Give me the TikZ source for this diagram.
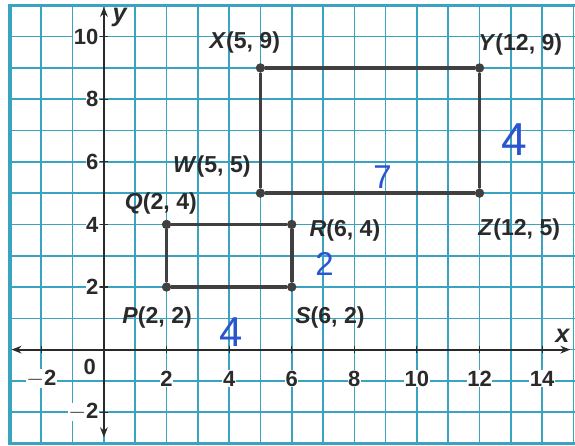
\documentclass[tikz,border=0pt]{standalone}
\usepackage{fontspec}
\setmainfont{Liberation Sans}
\usetikzlibrary{arrows.meta}
\definecolor{gridteal}{HTML}{3AA3C0}
\definecolor{axisgray}{HTML}{2A2A2A}
\definecolor{shapegray}{HTML}{404040}
\definecolor{penblue}{HTML}{2B55CF}

\begin{document}
\begin{tikzpicture}[
  dot/.style={circle,fill=shapegray,inner sep=0pt,minimum size=8.5pt},
  ptlabel/.style={font=\fontsize{21}{23}\selectfont\bfseries,text=axisgray,inner sep=1pt},
  ticklabel/.style={font=\fontsize{20}{22}\selectfont\bfseries,text=axisgray,fill=white,inner sep=0.5pt},
  penmark/.style={font=\fontsize{#1}{#1}\selectfont,text=penblue,inner sep=0pt},
  penmark/.default=28]
  \useasboundingbox (-3.32,-3.05) rectangle (15.05,11.17);
  % grid
  \draw[gridteal,line width=1.5pt] (-3,-3) grid (15.05,11);
  \draw[gridteal,line width=2.8pt] (15.05,11) -- (-3,11) -- (-3,-3) -- (15.05,-3);
  % axes
  \coordinate (xl) at (-2.95,0);
  \coordinate (xr) at (14.9,0);
  \coordinate (yb) at (0,-2.8);
  \coordinate (yt) at (0,10.95);
  \draw[axisgray,line width=2pt,{Stealth[length=9pt,width=7pt]}-{Stealth[length=9pt,width=7pt]}] (xl) -- (xr);
  \draw[axisgray,line width=2pt,{Stealth[length=9pt,width=7pt]}-{Stealth[length=9pt,width=7pt]}] (yb) -- (yt);
  \foreach \x in {-2,2,4,...,14} {
    \draw[axisgray,line width=1pt] (\x,0.12)--(\x,-0.12);
    \node[ticklabel] (xt\x) at (\x,-0.92) {\ifnum\x<0 $-$\fi\the\numexpr\ifnum\x<0 -\fi\x\relax};
  }
  \foreach \y in {-2,2,4,...,10} {
    \draw[axisgray,line width=1pt] (0.12,\y)--(-0.12,\y);
    \node[ticklabel,anchor=east] (yt\y) at (-0.15,\y) {\ifnum\y<0 $-$\fi\the\numexpr\ifnum\y<0 -\fi\y\relax};
  }
  \node[ticklabel] (zero) at (-0.45,-0.55) {0};
  \node[ptlabel,font=\fontsize{23}{25}\selectfont\bfseries\itshape] (xlbl) at (14.65,0.45) {x};
  \node[ptlabel,font=\fontsize{23}{25}\selectfont\bfseries\itshape] (ylbl) at (0.5,10.6) {y};
  % points
  \foreach \n/\x/\y in {P/2/2,Q/2/4,R/6/4,S/6/2,W/5/5,X/5/9,Y/12/9,Z/12/5}
    \node[dot] (\n) at (\x,\y) {};
  \draw[shapegray,line width=3.3pt] (P) -- (Q) -- (R) -- (S) -- (P);
  \draw[shapegray,line width=3.3pt] (W) -- (X) -- (Y) -- (Z) -- (W);
  % labels
  \foreach \n/\c/\x/\y in {P/{2, 2}/1.7/1.02,Q/{2, 4}/1.82/4.67,R/{6, 4}/7.7/3.8,S/{6, 2}/7.22/1.02,
      W/{5, 5}/3.45/5.85,X/{5, 9}/4.5/9.8,Y/{12, 9}/13.3/9.75,Z/{12, 5}/13.27/3.85}
    \node[ptlabel] (lbl\n) at (\x,\y) {\textit{\n}(\c)};
  % hand marks
  \node[penmark=30] (side7) at (8.9,5.5) {7};
  \node[penmark=42] (side4a) at (13.1,6.7) {4};
  \node[penmark=30] (side2) at (7.05,2.75) {2};
  \node[penmark=38] (side4b) at (4.05,0.55) {4};
\end{tikzpicture}
\end{document}
